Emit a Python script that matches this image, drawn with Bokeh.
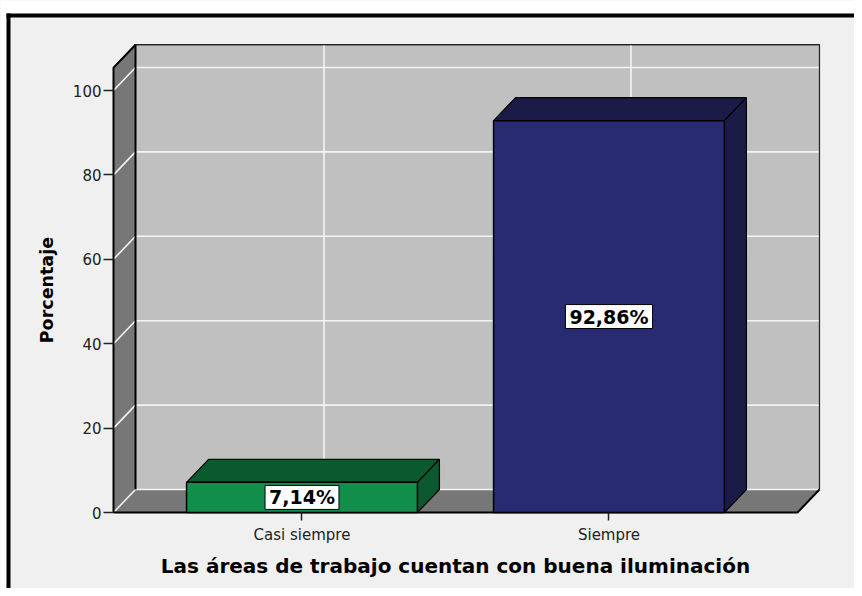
import math
from bokeh.plotting import figure
from bokeh.models import ColumnDataSource, Range1d, LinearAxis, FixedTicker
from bokeh.core.properties import value
from bokeh.embed import file_html
from bokeh.resources import INLINE

# ---------------- data ----------------
categories = ["Casi siempre", "Siempre"]
percentages = [7.14, 92.86]
value_labels = ["7,14%", "92,86%"]
y_ticks = [0, 20, 40, 60, 80, 100]
x_title = "Las áreas de trabajo cuentan con buena iluminación"
y_title = "Porcentaje"

# ---------------- styles / geometry ----------------
front_colors = ["#128E4B", "#282A72"]
shade_colors = ["#0B5A2F", "#1B1B48"]
x_pos = [1, 2]
W, H = 854, 588
PX_X = 307.0        # pixels per category unit
PX_Y = 4.22         # pixels per percent
ORIG_X, ORIG_Y = 113, 512   # pixel position of the front floor/left corner
BW = 0.752          # bar width (category units)
DX = 22 / PX_X      # depth offset x
DY = 23 / PX_Y      # depth offset y
X_LO = 0.386
X_HI = 2.614
Y_TOP = 105.4
WALL = "#777777"
BACK = "#C0C0C0"
BG = "#F0F0F0"


def X(px):
    return X_LO + (px - ORIG_X) / PX_X


def Y(py):
    return (ORIG_Y - py) / PX_Y


p = figure(width=W, height=H, output_backend="svg", toolbar_location=None,
           x_range=Range1d(X(0), X(W)), y_range=Range1d(Y(H), Y(0)),
           x_axis_type=None, y_axis_type=None,
           min_border=0, min_border_left=0, min_border_right=0,
           min_border_top=0, min_border_bottom=0)
p.background_fill_color = BG
p.border_fill_color = BG
p.outline_line_color = None

# outer frame of the chart image
p.quad(left=[X(0)], right=[X(W)], bottom=[Y(13)], top=[Y(0)], fill_color="white", line_color=None)
p.quad(left=[X(0)], right=[X(6)], bottom=[Y(H)], top=[Y(0)], fill_color="white", line_color=None)
p.quad(left=[X(6)], right=[X(W)], bottom=[Y(17)], top=[Y(13)], fill_color="black", line_color=None)
p.quad(left=[X(6)], right=[X(10)], bottom=[Y(H)], top=[Y(13)], fill_color="black", line_color=None)

# back wall
p.quad(left=[X_LO + DX], right=[X_HI + DX], bottom=[DY], top=[Y_TOP + DY],
       fill_color=BACK, line_color="black", line_width=1)
# left wall
p.patch([X_LO, X_LO, X_LO + DX, X_LO + DX], [0, Y_TOP, Y_TOP + DY, DY],
        fill_color=WALL, line_color="black", line_width=1)
# floor
p.patch([X_LO, X_HI, X_HI + DX, X_LO + DX], [0, 0, DY, DY],
        fill_color=WALL, line_color="black", line_width=1)

# gridlines
gxs = [[X_LO, X_LO + DX, X_HI + DX] for t in y_ticks]
gys = [[t, t + DY, t + DY] for t in y_ticks]
p.multi_line(gxs, gys, line_color="#F4F4F4", line_width=1.6)
vxs = [[x + DX, x + DX] for x in x_pos]
vys = [[DY, Y_TOP + DY] for x in x_pos]
p.multi_line(vxs, vys, line_color="#F4F4F4", line_width=1.6)

# dark edges
p.line([X_LO, X_LO, X_LO + DX], [0, Y_TOP, Y_TOP + DY], line_color="black", line_width=2)
p.line([X_LO + DX, X_LO + DX], [DY, Y_TOP + DY], line_color="black", line_width=2)
p.line([X_LO + DX, X_HI + DX, X_HI + DX], [Y_TOP + DY, Y_TOP + DY, DY],
       line_color="#222222", line_width=1.2)
p.line([X_LO, X_HI, X_HI + DX], [0, 0, DY], line_color="black", line_width=2)

# bars
src = ColumnDataSource(dict(x=x_pos, top=percentages, fc=front_colors, sc=shade_colors,
                            lab=value_labels, mid=[v / 2 for v in percentages]))
top_xs = [[x - BW / 2, x + BW / 2, x + BW / 2 + DX, x - BW / 2 + DX] for x in x_pos]
top_ys = [[v, v, v + DY, v + DY] for v in percentages]
side_xs = [[x + BW / 2, x + BW / 2 + DX, x + BW / 2 + DX, x + BW / 2] for x in x_pos]
side_ys = [[0, DY, v + DY, v] for v in percentages]
p.patches(top_xs, top_ys, fill_color=shade_colors, line_color="black", line_width=1.2)
p.patches(side_xs, side_ys, fill_color=shade_colors, line_color="black", line_width=1.2)
p.vbar(x="x", top="top", bottom=0, width=BW, source=src, fill_color="fc",
       line_color="black", line_width=1.5)

p.text(x="x", y="mid", text="lab", source=src, text_align="center",
       text_baseline="middle", text_font=value("DejaVu Sans"),
       text_font_style="bold", text_font_size="19px", text_color="black",
       background_fill_color="white", border_line_color="black",
       border_line_width=1, padding=dict(left=4, right=4, top=1, bottom=1))

# axes (fixed inside the frame, at the front plane)
yaxis = LinearAxis(ticker=FixedTicker(ticks=y_ticks), fixed_location=X_LO,
                   axis_line_color=None,
                   major_tick_out=10, major_tick_in=0, minor_tick_out=0, minor_tick_in=0,
                   major_tick_line_color="#222222", major_tick_line_width=1.5,
                   major_label_standoff=2,
                   major_label_text_font="DejaVu Sans", major_label_text_font_size="15px",
                   major_label_text_color="#222222")
p.add_layout(yaxis, "left")
xaxis = LinearAxis(ticker=FixedTicker(ticks=x_pos), fixed_location=0,
                   major_label_overrides={x: c for x, c in zip(x_pos, categories)},
                   axis_line_color=None,
                   major_tick_out=8, major_tick_in=0, minor_tick_out=0, minor_tick_in=0,
                   major_tick_line_color="#222222", major_tick_line_width=1.5,
                   major_label_standoff=5,
                   major_label_text_font="DejaVu Sans", major_label_text_font_size="15px",
                   major_label_text_color="#222222")
p.add_layout(xaxis, "below")

# axis titles (centred on the front plane)
p.text(x=[X(46)], y=[(Y_TOP) / 2], text=[y_title], angle=math.pi / 2,
       text_align="center", text_baseline="middle", text_font=value("DejaVu Sans"),
       text_font_style="bold", text_font_size="17.5px", text_color="black")
p.text(x=[(X_LO + X_HI) / 2], y=[Y(565)], text=[x_title],
       text_align="center", text_baseline="middle", text_font=value("DejaVu Sans"),
       text_font_style="bold", text_font_size="20px", text_color="black")

open("out.html", "w").write(file_html(p, INLINE))
